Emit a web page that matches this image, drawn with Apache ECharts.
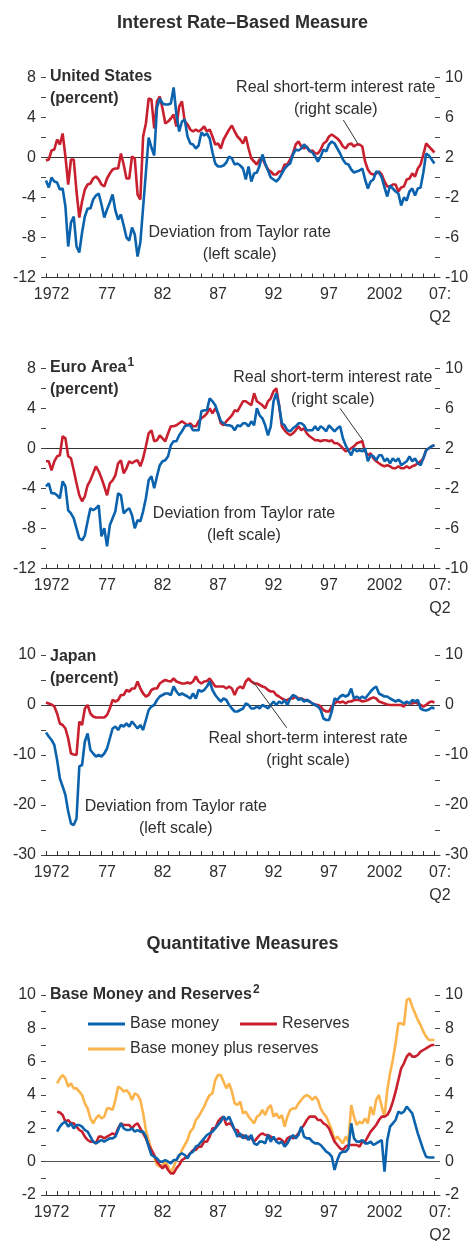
<!DOCTYPE html>
<html><head><meta charset="utf-8">
<script src="https://cdn.jsdelivr.net/npm/echarts@6/dist/echarts.min.js"></script>
<style>html,body{margin:0;padding:0;background:#fff}#c{width:471px;height:1241px}</style>
</head><body><div id="c"></div>
<script>
// ---------------- DATA (quarterly) ----------------
const startIRB = 1972;      // first quarter of interest-rate panels: 1972Q1
const startQM = 1973;       // first quarter of quantitative panel: 1973Q1

const usDeviation = [-2.3,-3.0,-2.0,-2.4, -2.5,-3.2,-3.1,-4.9, -8.9,-6.5,-5.9,-8.9, -9.5,-7.5,-5.9,-5.1,
 -5.1,-4.2,-3.8,-3.6, -4.7,-6.0,-5.2,-4.5, -3.7,-5.3,-6.2,-5.7, -6.8,-8.0,-8.3,-7.0, -7.7,-9.9,-8.5,-5.0,
 -1.5,2.0,1.0,0.2, 5.0,5.9,5.4,5.3, 5.3,5.4,7.0,4.3, 2.6,3.6,3.8,2.1, 1.4,1.3,0.9,1.2, 2.5,2.2,2.4,1.9,
 0.5,-0.6,-0.9,-0.9, -0.8,-0.5,0.1,-0.1, -0.7,-0.6,-0.8,-1.1, -2.2,-0.9,-2.4,-1.6, -1.5,-0.8,0.3,-0.6,
 -1.3,-2.0,-2.2,-2.4, -2.1,-1.6,-1.1,-0.8, -0.6,0.3,0.8,0.7, 0.9,1.3,1.0,0.7, 0.5,0.1,-0.4,0.1,
 0.8,0.6,1.3,1.6, 1.4,0.9,0.4,-0.2, -0.6,-0.7,-1.2,-1.5, -1.4,-1.3,-1.1,-2.2, -3.1,-2.4,-2.2,-1.4,
 -1.5,-2.0,-3.0,-3.9, -2.8,-3.1,-3.4,-3.6, -4.8,-4.0,-4.3,-3.4, -3.1,-3.8,-3.1,-3.0, -1.5,0.4,0.2,-0.2, -0.6];
const usRealRate = [1.7,1.8,2.7,2.8, 3.8,3.3,4.4,2.1, -0.7,1.8,1.8,-1.4, -4.0,-2.4,-1.2,-0.7, -0.6,-0.1,0.1,-0.2,
 -0.7,-0.9,-0.1,0.4, 0.8,0.9,0.9,2.4, 1.3,-0.1,-0.1,2.1, 1.9,-1.7,-2.2,4.1, 5.4,7.9,7.8,4.9, 7.6,8.1,6.9,5.4,
 5.6,5.9,6.3,5.1, 7.1,7.6,5.6,5.3, 4.8,4.6,4.8,4.6, 4.8,5.1,4.6,4.8, 4.1,3.3,3.4,2.9, 3.8,4.3,4.8,5.2,
 4.6,4.1,3.8,3.4, 4.1,2.9,1.9,1.6, 1.3,1.8,1.9,1.3, 0.8,0.6,0.3,0.3, 0.6,0.6,1.3,1.3, 1.8,2.4,3.3,3.6,
 3.1,2.9,3.1,2.6, 2.7,2.4,2.4,2.8, 3.4,3.6,4.1,4.3, 4.1,3.9,3.6,3.1, 2.9,3.3,3.4,3.1, 3.3,3.3,3.1,1.6,
 0.8,0.4,0.3,0.4, 0.6,0.3,-0.4,-0.9, -0.9,-0.7,-0.7,-1.4, -1.0,-0.9,-0.2,-0.1, 0.4,0.1,0.9,1.3, 2.3,3.4,3.1,2.8, 2.5];

const euDeviation = [-3.8,-3.5,-4.5,-4.5, -4.7,-5.0,-3.3,-3.8, -6.2,-6.5,-7.0,-8.0, -9.0,-9.2,-8.7,-7.3,
 -6.0,-6.2,-6.0,-5.7, -8.8,-8.0,-9.8,-7.7, -7.0,-6.3,-4.5,-4.7, -6.5,-6.2,-6.0,-6.7, -8.0,-7.2,-7.3,-6.3,
 -5.0,-3.2,-2.8,-4.0, -2.8,-1.7,-1.3,-1.2, -0.8,0.3,0.7,0.7, 1.3,1.7,2.2,2.3, 2.3,1.8,1.8,1.8,
 3.7,3.8,3.8,5.0, 4.7,4.3,3.5,2.7, 2.5,2.3,2.3,2.2, 1.8,2.3,2.2,2.5, 2.5,2.2,2.7,2.3, 4.0,3.3,3.0,2.3,
 1.3,2.2,4.7,5.5, 4.3,2.5,2.3,1.8, 1.7,2.0,2.2,2.5, 2.5,2.3,1.8,1.8, 1.8,2.2,1.8,2.2, 2.0,1.7,2.3,2.0,
 1.7,2.0,2.2,1.0, 0.3,-0.2,-0.7,0.0, -0.3,-0.2,-0.3,0.0, -1.3,-0.7,-0.8,-1.2, -0.7,-0.7,-1.3,-1.0,
 -1.5,-1.0,-1.3,-1.0, -1.7,-1.5,-1.3,-0.8, -1.3,-1.0,-1.5,-1.7, -1.0,-0.2,0.0,0.2, 0.3];
const euRealRate = [0.7,0.7,-0.2,0.7, 1.2,1.3,3.2,3.0, 1.2,1.0,-0.2,-1.5, -2.7,-3.3,-2.8,-1.7, -1.2,-0.5,0.2,-0.3,
 -1.0,-1.8,-2.7,-1.5, -1.2,-0.7,0.5,0.8, -0.5,0.0,0.7,0.5, 0.7,0.8,0.2,1.0, 2.2,3.5,3.8,2.7, 2.8,3.3,3.0,2.7,
 3.5,4.2,4.2,4.3, 4.5,4.7,4.5,4.3, 4.5,4.2,4.2,4.7, 5.0,5.2,5.5,6.0, 5.5,6.0,5.5,4.5, 4.3,4.7,5.0,5.3,
 5.8,5.7,6.2,6.7, 6.7,6.5,6.3,7.5, 6.7,6.5,6.3,6.0, 6.7,7.0,7.7,8.0, 6.3,4.2,3.8,3.5, 3.3,3.5,3.8,4.2,
 3.8,4.0,3.5,3.2, 3.0,2.8,2.8,2.7, 2.8,2.8,2.7,2.8, 2.5,2.5,2.3,2.0, 1.7,1.8,2.0,2.2, 2.5,2.6,2.7,1.7,
 1.3,1.5,1.0,0.7, 0.5,0.3,0.2,0.3, 0.2,0.0,0.0,0.2, 0.0,0.0,0.2,0.0, 0.2,0.3,0.5,0.7, 1.0,1.8,2.0,2.2, 2.3];

const jpDeviation = [-5.5,-6.3,-7.0,-8.0, -11.0,-14.7,-16.3,-18.0, -21.3,-23.7,-24.0,-22.7, -12.3,-12.0,-7.3,-5.7,
 -9.0,-9.7,-10.3,-10.0, -10.3,-9.7,-8.7,-6.7, -4.7,-4.3,-5.0,-4.0, -4.3,-3.7,-4.3,-3.3, -4.0,-4.7,-4.0,-5.0,
 -3.0,-1.0,-0.3,0.0, 1.0,1.7,2.0,2.3, 2.3,2.0,3.7,2.7, 2.0,2.3,2.0,1.7, 1.3,2.3,1.3,3.0, 2.7,3.0,3.7,4.7,
 3.0,2.0,1.3,0.7, 1.3,1.0,0.0,-0.7, -1.3,-1.3,-1.0,-0.7, 0.3,0.0,-0.7,-0.7, -0.3,-0.7,0.0,-0.3,
 -0.7,0.0,0.7,0.0, 0.7,0.3,1.0,0.0, 1.3,2.0,1.7,1.0, 1.3,0.7,1.0,0.7, 0.3,0.0,-0.3,-1.0, -2.7,-3.0,-3.0,-1.3,
 1.3,1.0,1.7,2.0, 1.7,2.0,3.3,1.3, 1.7,1.3,1.7,1.3, 2.0,2.7,3.3,3.7, 2.3,2.0,1.7,1.7, 1.3,1.0,0.7,1.0,
 0.7,0.3,0.7,0.3, 1.0,0.7,1.0,-0.7, -1.0,-1.1,-0.9,-0.5, -0.7];
const jpRealRate = [0.5,0.3,0.1,-0.3, -1.7,-3.7,-4.0,-4.7, -6.7,-9.7,-9.9,-10.0, -3.3,-4.0,-0.7,0.0,
 -1.7,-2.3,-2.5,-2.5, -2.5,-2.5,-2.0,-0.7, 1.0,0.7,1.0,2.0, 2.0,3.0,2.7,3.3, 3.3,4.7,3.3,2.3,
 1.7,2.0,3.0,3.3, 3.3,4.3,4.7,5.0, 4.8,4.7,5.3,4.7, 4.5,4.3,4.3,4.5, 4.3,4.7,5.7,4.7, 4.3,4.7,4.8,5.3,
 4.5,3.7,3.7,3.7, 3.7,3.3,3.7,3.3, 2.0,3.3,3.7,3.3, 4.7,5.3,4.7,4.3, 4.3,4.0,3.7,3.5,
 3.0,2.7,2.7,2.0, 1.7,1.3,1.0,1.0, 1.3,1.3,1.7,1.3, 1.3,1.0,1.0,0.7, 0.3,0.1,0.0,-0.3, -1.0,-1.3,-1.3,-0.3,
 0.3,0.7,0.5,0.7, 0.3,0.7,0.7,1.0, 1.0,1.0,0.7,0.8, 1.0,1.3,1.5,1.3, 0.7,0.5,0.3,0.1, 0.0,0.0,0.0,0.0,
 0.0,-0.3,0.5,0.3, 0.3,0.5,0.3,0.0, -0.3,0.0,0.5,0.7, 0.5];

const baseMoney = [1.8,2.1,2.3,2.4, 2.1,2.3,2.0,2.2, 2.2,2.1,1.9,1.8, 1.5,1.2,1.1,1.2, 1.3,1.2,1.3,1.4,
 1.4,1.5,1.9,2.3, 2.0,1.9,1.9,2.0, 1.8,1.9,1.8,1.8, 1.5,0.9,0.4,0.3, 0.2,0.0,0.0,0.1, 0.0,-0.1,0.1,0.1,
 0.4,0.5,0.4,0.2, 0.5,0.6,0.9,1.0, 1.2,1.4,1.6,1.7, 1.8,2.0,2.2,2.4, 2.7,2.5,2.7,2.3, 1.9,1.5,1.7,1.4,
 1.6,1.3,1.6,1.1, 1.0,1.2,1.2,1.1, 1.6,1.2,1.5,1.2, 1.1,1.2,0.9,1.1, 1.4,1.6,1.4,1.6, 2.1,1.5,1.4,1.4,
 1.2,1.1,1.1,1.0, 0.8,0.6,0.5,0.3, -0.5,0.1,0.5,0.6, 0.6,0.8,2.3,1.4, 1.2,1.2,1.3,1.1, 1.1,1.2,1.0,1.1,
 1.2,1.3,-0.6,1.3, 2.1,2.3,2.5,3.0, 2.9,3.0,3.3,3.1, 2.9,2.3,1.7,1.2, 0.7,0.3,0.25,0.25, 0.25];
const reserves = [3.0,2.95,2.8,2.4, 2.5,2.3,2.3,2.1, 1.9,1.8,1.5,1.3, 1.2,1.2,1.1,1.5, 1.5,1.4,1.5,1.6,
 1.7,1.6,2.0,2.3, 2.2,2.2,2.2,2.0, 2.2,2.3,2.0,1.7, 1.4,1.0,0.7,0.4, 0.0,-0.2,-0.4,-0.2, -0.5,-0.7,-0.7,-0.4,
 -0.2,0.1,0.2,0.3, 0.5,0.7,0.7,0.9, 0.9,1.2,1.2,1.5, 2.0,2.0,2.4,2.6, 2.7,2.2,2.3,2.2, 1.9,1.9,1.5,1.6,
 1.4,1.5,1.4,1.2, 1.4,1.6,1.7,1.6, 1.6,1.5,1.4,1.3, 1.4,1.3,1.1,1.4, 1.5,1.4,1.5,1.7, 2.0,2.2,2.5,2.7,
 2.7,2.7,2.5,2.5, 2.3,2.2,2.0,1.6, 1.2,1.0,0.8,0.7, 0.9,1.0,1.0,1.0, 1.0,0.9,1.2,1.2, 1.5,1.8,2.0,2.2,
 2.5,2.7,2.7,2.8, 3.1,3.6,4.2,4.9, 5.6,5.9,6.3,6.5, 6.3,6.3,6.4,6.6, 6.7,6.8,6.9,7.0, 7.0];
const basePlusReserves = [4.7,5.0,5.2,5.0, 4.5,4.7,4.4,4.4, 4.2,4.0,3.5,3.2, 2.6,2.3,2.6,2.8, 2.6,2.7,3.2,3.2,
 3.1,3.7,4.5,4.4, 4.2,4.3,4.1,3.7, 4.1,4.0,3.7,2.9, 1.9,1.3,0.7,0.3, -0.2,-0.3,-0.2,0.1, -0.3,-0.7,-0.3,0.1,
 0.3,0.7,1.0,1.3, 1.8,2.0,2.5,2.7, 3.0,3.3,3.7,4.0, 4.1,4.9,5.2,5.2, 4.8,4.4,4.7,4.2, 3.5,3.4,3.6,2.9,
 3.0,2.7,2.5,2.3, 2.7,2.8,3.1,2.8, 3.2,3.4,2.7,2.9, 2.6,2.8,2.1,2.7, 3.1,3.2,3.2,3.5, 3.7,3.9,4.0,3.9,
 3.7,3.9,3.7,3.2, 2.9,2.7,2.3,1.9, 1.3,1.5,1.3,1.1, 1.5,1.2,3.4,2.7, 2.2,2.4,2.3,2.6, 2.3,3.3,2.8,3.7,
 4.0,3.3,2.7,4.3, 5.3,6.1,7.1,8.3, 8.3,8.2,9.7,9.8, 9.3,8.9,8.5,8.2, 7.8,7.5,7.3,7.3, 7.3];

// ---------------- AXIS TICKS / LABELS ----------------
const xTickYears = []; for (let y = 1972; y <= 2007; y++) xTickYears.push(y);
const xLabelYears = [1972, 1977, 1982, 1987, 1992, 1997, 2002, 2007];
const xLabelTexts = ['1972', '77', '82', '87', '92', '97', '2002', '07:\nQ2'];
const irbLeftTicks = [8, 6, 4, 2, 0, -2, -4, -6, -8, -10, -12];
const irbLeftLabels = [8, 4, 0, -4, -8, -12];
const irbRightTicks = [10, 8, 6, 4, 2, 0, -2, -4, -6, -8, -10];
const irbRightLabels = [10, 6, 2, -2, -6, -10];
const jpTicks = [10, 5, 0, -5, -10, -15, -20, -25, -30];
const jpLabels = [10, 0, -10, -20, -30];
const qmTicks = [10, 9, 8, 7, 6, 5, 4, 3, 2, 1, 0, -1, -2];
const qmLabels = [10, 8, 6, 4, 2, 0, -2];

// ---------------- STYLE ----------------
const FONT = '"Liberation Sans", Arial, Helvetica, sans-serif';
const TXT = '#2e2e2e';
const BLUE = '#0b63ae', RED = '#c8202f', YELLOW = '#fbb44c';
const LW = 2.6;

const toPts = (arr, start) => arr.map((v, i) => [start + i / 4, v]);

const gridBase = { left: 46, width: 394, height: 200, containLabel: false, outerBoundsMode: 'none' };
const grids = [
  Object.assign({ top: 77.5 }, gridBase),
  Object.assign({ top: 368.3 }, gridBase),
  Object.assign({ top: 655 }, gridBase),
  Object.assign({ top: 995 }, gridBase)
];

function xAx(g) {
  return {
    type: 'value', gridIndex: g, min: 1972, max: 2007.5,
    axisLine: { show: true, onZero: false, lineStyle: { color: '#333', width: 1 } },
    axisTick: { show: true, inside: true, length: 4, customValues: xTickYears, lineStyle: { color: '#333', width: 1 } },
    axisLabel: {
      show: true, customValues: xLabelYears.map(y => y + 0.5),
      formatter: v => { const k = xLabelYears.findIndex(y => Math.abs(y + 0.5 - v) < 1e-6); return k >= 0 ? xLabelTexts[k] : ''; },
      fontSize: 16, fontFamily: FONT, color: TXT, margin: 6, lineHeight: 23
    },
    splitLine: { show: false }
  };
}
function yAx(g, pos, min, max, ticks, labels) {
  const left = pos === 'left';
  return {
    type: 'value', gridIndex: g, position: pos, min: min, max: max,
    axisLine: { show: false },
    axisTick: { show: true, inside: !left, length: 5, customValues: ticks, lineStyle: { color: '#444', width: 1 } },
    axisLabel: { show: true, customValues: labels, formatter: v => String(v), fontSize: 16, fontFamily: FONT, color: TXT, margin: left ? 10 : 5 },
    splitLine: { show: false }
  };
}

const zeroLine = { silent: true, z: 1, symbol: ['none', 'none'], label: { show: false }, animation: false,
  lineStyle: { color: '#333', width: 1, type: 'solid' }, data: [{ yAxis: 0 }] };
const leader = (a, b) => ({ silent: true, symbol: ['none', 'none'], label: { show: false }, animation: false,
  lineStyle: { color: '#333', width: 1, type: 'solid' }, data: [[{ coord: a }, { coord: b }]] });

function line(name, data, color, xi, yi, extra) {
  return Object.assign({ type: 'line', name: name, data: data, xAxisIndex: xi, yAxisIndex: yi, showSymbol: false, symbol: 'none',
    lineStyle: { color: color, width: LW }, itemStyle: { color: color }, z: 2, animation: false }, extra || {});
}

const series = [
  line('US real', toPts(usRealRate, startIRB), RED, 0, 1, { markLine: leader([1998.79, 5.75], [2000.14, 3.32]) }),
  line('US dev', toPts(usDeviation, startIRB), BLUE, 0, 0, { markLine: zeroLine }),
  line('EU real', toPts(euRealRate, startIRB), RED, 1, 3, { markLine: leader([1998.49, 6.0], [2000.59, 2.73]) }),
  line('EU dev', toPts(euDeviation, startIRB), BLUE, 1, 2, { markLine: zeroLine }),
  line('JP real', toPts(jpRealRate, startIRB), RED, 2, 5, { markLine: leader([1993.69, -4.54], [1990.62, 4.8]) }),
  line('JP dev', toPts(jpDeviation, startIRB), BLUE, 2, 4, { markLine: zeroLine }),
  line('Base money plus reserves', toPts(basePlusReserves, startQM), YELLOW, 3, 6, { markLine: Object.assign({}, zeroLine, { lineStyle: { color: '#555', width: 1, type: 'solid' } }) }),
  line('Reserves', toPts(reserves, startQM), RED, 3, 6),
  line('Base money', toPts(baseMoney, startQM), BLUE, 3, 6)
];

function txt(x, y, text, opts) {
  return { type: 'text', x: x, y: y, silent: true, style: Object.assign({
    text: text, fill: TXT, fontSize: 16, fontFamily: FONT, lineHeight: 22,
    align: 'center', textAlign: 'center', verticalAlign: 'top', textVerticalAlign: 'top' }, opts || {}) };
}
const supRich = { b: { fontSize: 16, fontWeight: 'bold', fontFamily: FONT, fill: TXT, color: TXT, lineHeight: 22 },
  s: { fontSize: 12, fontWeight: 'bold', fontFamily: FONT, fill: TXT, color: TXT, verticalAlign: 'top', lineHeight: 22, padding: [0, 0, 0, 1] } };

const graphic = [
  txt(242.5, 12, 'Interest Rate\u2013Based Measure', { fontSize: 18, fontWeight: 'bold' }),
  txt(242.5, 933, 'Quantitative Measures', { fontSize: 18, fontWeight: 'bold' }),
  txt(50, 66, 'United States\n(percent)', { align: 'left', textAlign: 'left', fontWeight: 'bold' }),
  txt(50, 357, '{b|Euro Area}{s|1}\n{b|(percent)}', { align: 'left', textAlign: 'left', rich: supRich }),
  txt(50, 646, 'Japan\n(percent)', { align: 'left', textAlign: 'left', fontWeight: 'bold' }),
  txt(50, 984, '{b|Base Money and Reserves}{s|2}', { align: 'left', textAlign: 'left', rich: supRich }),
  txt(335.7, 77, 'Real short-term interest rate\n(right scale)'),
  txt(239.7, 222, 'Deviation from Taylor rate\n(left scale)'),
  txt(332.8, 366.5, 'Real short-term interest rate\n(right scale)'),
  txt(244, 503, 'Deviation from Taylor rate\n(left scale)'),
  txt(308, 728, 'Real short-term interest rate\n(right scale)'),
  txt(175.8, 796, 'Deviation from Taylor rate\n(left scale)')
];

const legendBase = { orient: 'horizontal', icon: 'rect', itemWidth: 37, itemHeight: 3, itemGap: 21, selectedMode: false,
  textStyle: { fontSize: 16, fontFamily: FONT, color: TXT, padding: [0, 0, 0, 0] } };

const option = {
  animation: false,
  backgroundColor: '#fff',
  grid: grids,
  xAxis: [xAx(0), xAx(1), xAx(2), xAx(3)],
  yAxis: [
    yAx(0, 'left', -12, 8, irbLeftTicks, irbLeftLabels), yAx(0, 'right', -10, 10, irbRightTicks, irbRightLabels),
    yAx(1, 'left', -12, 8, irbLeftTicks, irbLeftLabels), yAx(1, 'right', -10, 10, irbRightTicks, irbRightLabels),
    yAx(2, 'left', -30, 10, jpTicks, jpLabels), yAx(2, 'right', -30, 10, jpTicks, jpLabels),
    yAx(3, 'left', -2, 10, qmTicks, qmLabels), yAx(3, 'right', -2, 10, qmTicks, qmLabels)
  ],
  legend: [
    Object.assign({}, legendBase, { data: ['Base money', 'Reserves'], left: 83, top: 1011 }),
    Object.assign({}, legendBase, { data: ['Base money plus reserves'], left: 83, top: 1036 })
  ],
  series: series,
  graphic: graphic
};

const chart = echarts.init(document.getElementById('c'), null, { renderer: 'canvas', width: 471, height: 1241 });
chart.setOption(option);
</script></body></html>
